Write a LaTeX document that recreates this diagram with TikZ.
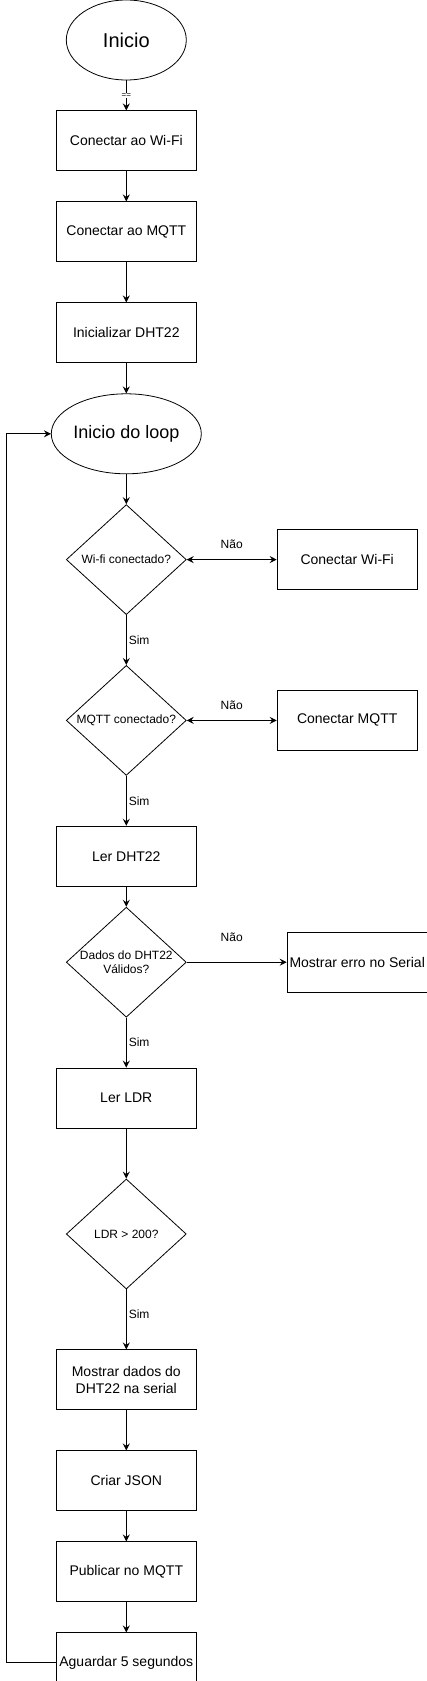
\documentclass[tikz,border=0pt]{standalone}
\usepackage{fontspec}
\setmainfont{Liberation Sans}
\usepackage{tikz}
\usetikzlibrary{arrows.meta,shapes.geometric,positioning}
\newcommand{\procfont}{\fontsize{14}{17}\selectfont}
\newcommand{\decfont}{\fontsize{12}{14.5}\selectfont}
\tikzset{
    process/.style={draw, rectangle, line width=1pt, minimum width=140pt, minimum height=60pt, inner sep=1pt, align=center, font=\procfont},
    terminal/.style={draw, ellipse, line width=0.8pt, minimum height=80pt, inner sep=0pt},
    decision/.style={draw, diamond, line width=0.8pt, minimum width=120pt, minimum height=110pt, shape aspect=1.09, inner sep=0pt, align=center, font=\decfont},
    flow/.style={-{Stealth[length=7pt, width=7pt, inset=2.5pt]}, line width=1pt},
    flowboth/.style={{Stealth[length=7pt, width=7pt, inset=2.5pt]}-{Stealth[length=7pt, width=7pt, inset=2.5pt]}, line width=1pt},
    lbl/.style={inner sep=1pt, font=\decfont}
}

\begin{document}
\begin{tikzpicture}
    \useasboundingbox (0,0) rectangle (427pt,-1681pt);
    \node[terminal, minimum width=120pt, font=\fontsize{20}{24}\selectfont] (inicio) at (126.3pt,-40pt) {Inicio};
    \node[process, below=30pt of inicio] (wifi) {Conectar ao Wi-Fi};
    \node[process, below=30pt of wifi] (mqtt) {Conectar ao MQTT};
    \node[process, below=40pt of mqtt] (dht) {Inicializar DHT22};
    \node[terminal, minimum width=140pt, font=\fontsize{18}{22}\selectfont, below=30pt of dht] (loop) {Inicio do loop};
    \node[decision, below=30pt of loop] (wifiok) {Wi-fi conectado?};
    \node[process, right=90pt of wifiok] (conwifi) {Conectar Wi-Fi};
    \node[decision, below=50pt of wifiok] (mqttok) {MQTT conectado?};
    \node[process, right=90pt of mqttok] (conmqtt) {Conectar MQTT};
    \node[process, below=50pt of mqttok] (lerdht) {Ler DHT22};
    \node[decision, below=20pt of lerdht] (dhtok) {Dados do DHT22\\Válidos?};
    \node[process, right=100pt of dhtok] (erro) {Mostrar erro no Serial};
    \node[process, below=50pt of dhtok] (lerldr) {Ler LDR};
    \node[decision, below=50pt of lerldr] (ldrok) {LDR > 200?};
    \node[process, below=60pt of ldrok] (mostrar) {Mostrar dados do\\DHT22 na serial};
    \node[process, below=40pt of mostrar] (json) {Criar JSON};
    \node[process, below=30pt of json] (publicar) {Publicar no MQTT};
    \node[process, below=30pt of publicar] (aguardar) {Aguardar 5 segundos};

    % setup
    \draw[flow] (inicio) -- node[fill=white, inner sep=0.5pt, font=\fontsize{8}{9}\selectfont] {==} (wifi);
    \draw[flow] (wifi) -- (mqtt);
    \draw[flow] (mqtt) -- (dht);
    \draw[flow] (dht) -- (loop);

    % loop
    \draw[flow] (loop) -- (wifiok);
    \draw[flowboth] (wifiok) -- node[lbl, yshift=15pt] {Não} (conwifi);
    \draw[flow] (wifiok) -- node[lbl, right=1pt] {Sim} (mqttok);
    \draw[flowboth] (mqttok) -- node[lbl, yshift=15pt] {Não} (conmqtt);
    \draw[flow] (mqttok) -- node[lbl, right=1pt] {Sim} (lerdht);
    \draw[flow] (lerdht) -- (dhtok);
    \draw[flow] (dhtok) -- node[lbl, pos=0.45, yshift=25pt] {Não} (erro);
    \draw[flow] (dhtok) -- node[lbl, right=1pt] {Sim} (lerldr);
    \draw[flow] (lerldr) -- (ldrok);
    \draw[flow] (ldrok) -- node[lbl, pos=0.42, right=1pt] {Sim} (mostrar);
    \draw[flow] (mostrar) -- (json);
    \draw[flow] (json) -- (publicar);
    \draw[flow] (publicar) -- (aguardar);

    % back to the start of the loop
    \draw[flow] (aguardar.west) -- ++(-49pt,0) |- (loop.west);
\end{tikzpicture}
\end{document}
